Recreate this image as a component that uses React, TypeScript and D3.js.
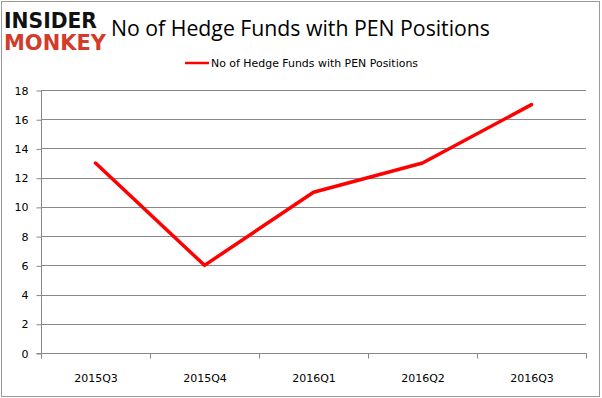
import { useEffect, useRef } from 'react';
import * as d3 from 'd3';

const quarters = ['2015Q3', '2015Q4', '2016Q1', '2016Q2', '2016Q3'];
const fundCounts = [13, 6, 11, 13, 17];
const yTicks = [0, 2, 4, 6, 8, 10, 12, 14, 16, 18];
const seriesName = 'No of Hedge Funds with PEN Positions';

const App = () => {
  const ref = useRef<SVGSVGElement | null>(null);

  useEffect(() => {
    if (!ref.current) return;
    const svg = d3.select(ref.current);
    svg.selectAll('*').remove();
    const width = 602;
    const height = 398;
    const plot = { left: 41, right: 586, top: 90, bottom: 353 };

    svg.attr('width', width).attr('height', height);

    svg
      .append('rect')
      .attr('x', 1.5)
      .attr('y', 1.5)
      .attr('width', width - 4)
      .attr('height', height - 3)
      .attr('fill', '#fff')
      .attr('stroke', '#999')
      .attr('stroke-width', 1);

    // logo
    svg
      .append('text')
      .attr('x', 4)
      .attr('y', 28)
      .attr('font-family', 'DejaVu Sans')
      .attr('font-weight', 'bold')
      .attr('font-size', 21)
      .attr('textLength', 93)
      .attr('lengthAdjust', 'spacingAndGlyphs')
      .attr('fill', '#111')
      .text('INSIDER');
    svg
      .append('text')
      .attr('x', 4)
      .attr('y', 50)
      .attr('font-family', 'DejaVu Sans')
      .attr('font-weight', 'bold')
      .attr('font-size', 21)
      .attr('textLength', 102)
      .attr('lengthAdjust', 'spacingAndGlyphs')
      .attr('fill', '#d23c2a')
      .text('MONKEY');

    svg
      .append('text')
      .attr('x', 111)
      .attr('y', 36)
      .attr('font-family', 'Open Sans, sans-serif')
      .attr('font-size', 21)
      .attr('textLength', 379)
      .attr('lengthAdjust', 'spacingAndGlyphs')
      .attr('fill', '#000')
      .text(seriesName);

    // legend
    svg
      .append('line')
      .attr('x1', 185)
      .attr('x2', 209)
      .attr('y1', 63)
      .attr('y2', 63)
      .attr('stroke', '#ff0000')
      .attr('stroke-width', 2.5);
    svg
      .append('text')
      .attr('x', 211)
      .attr('y', 67)
      .attr('font-family', 'DejaVu Sans, sans-serif')
      .attr('font-size', 10.5)
      .attr('textLength', 207)
      .attr('lengthAdjust', 'spacingAndGlyphs')
      .attr('fill', '#000')
      .text(seriesName);

    const x = d3.scaleBand<string>().domain(quarters).range([plot.left, plot.right]).padding(0);
    const y = d3.scaleLinear().domain([0, 18]).range([plot.bottom, plot.top]);

    // grid
    svg
      .append('g')
      .selectAll('line')
      .data(yTicks.filter((t) => t > 0))
      .join('line')
      .attr('x1', plot.left)
      .attr('x2', plot.right)
      .attr('y1', (d) => Math.round(y(d)) + 0.5)
      .attr('y2', (d) => Math.round(y(d)) + 0.5)
      .attr('stroke', '#888')
      .attr('stroke-width', 1);

    const yAxis = svg
      .append('g')
      .attr('transform', `translate(${plot.left + 0.5},0.5)`)
      .call(d3.axisLeft(y).tickValues(yTicks).tickSize(5).tickPadding(8).tickFormat(d3.format('d')));
    const xAxis = svg
      .append('g')
      .attr('transform', `translate(0.5,${Math.round(plot.bottom) + 0.5})`)
      .call(d3.axisBottom(x).tickValues([]).tickSize(0));

    // category boundary ticks
    const bounds = quarters.map((q) => x(q) as number).concat([plot.right]);
    xAxis
      .selectAll('line.bound')
      .data(bounds)
      .join('line')
      .attr('class', 'bound')
      .attr('x1', (d) => Math.round(d))
      .attr('x2', (d) => Math.round(d))
      .attr('y1', 0)
      .attr('y2', 5)
      .attr('stroke', '#888');
    xAxis
      .selectAll('text.lbl')
      .data(quarters)
      .join('text')
      .attr('class', 'lbl')
      .attr('x', (d) => (x(d) as number) + x.bandwidth() / 2)
      .attr('y', 28)
      .attr('text-anchor', 'middle')
      .attr('font-family', 'DejaVu Sans, sans-serif')
      .attr('font-size', 11)
      .attr('fill', '#000')
      .text((d) => d);

    [yAxis, xAxis].forEach((g) => {
      g.select('.domain').attr('stroke', '#888');
      g.selectAll('.tick line').attr('stroke', '#888');
      g.selectAll('.tick text')
        .attr('font-family', 'DejaVu Sans, sans-serif')
        .attr('font-size', 11)
        .attr('fill', '#000');
    });
    yAxis.select('.domain').attr('d', `M-5,${plot.bottom}H0V${plot.top}`);
    xAxis.select('.domain').attr('d', `M${plot.left},0H${plot.right}`);

    const line = d3
      .line<number>()
      .x((_, i) => (x(quarters[i]) as number) + x.bandwidth() / 2)
      .y((d) => y(d));

    svg
      .append('path')
      .datum(fundCounts)
      .attr('fill', 'none')
      .attr('stroke', '#ff0000')
      .attr('stroke-width', 3.5)
      .attr('stroke-linejoin', 'round')
      .attr('stroke-linecap', 'round')
      .attr('d', line);
  }, []);

  return <svg ref={ref} style={{ position: 'absolute', left: 0, top: 0 }} />;
};

export default App;
